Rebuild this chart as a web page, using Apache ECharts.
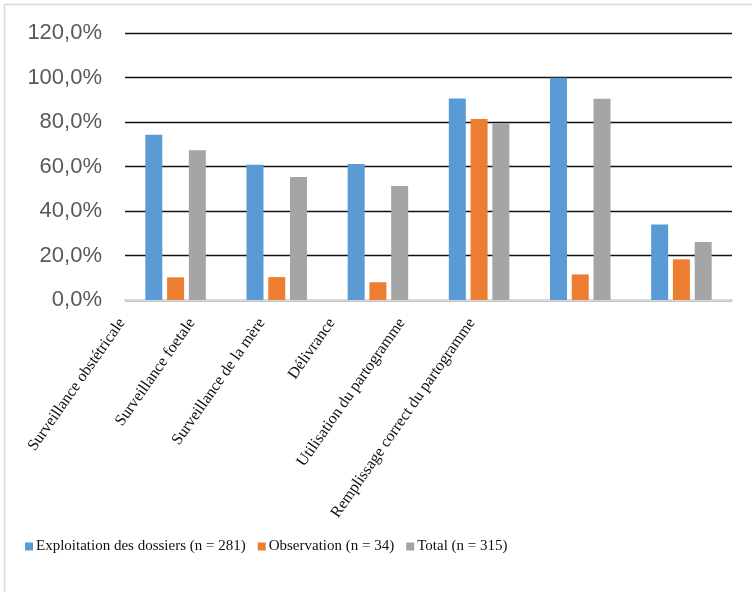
<!DOCTYPE html>
<html>
<head>
<meta charset="utf-8">
<script src="https://cdn.jsdelivr.net/npm/echarts@6/dist/echarts.min.js"></script>
<style>html,body{margin:0;padding:0;background:#fff;}#chart{width:752px;height:592px;}</style>
</head>
<body>
<div id="chart"></div>
<script>
var categories = ["Surveillance obstétricale", "Surveillance foetale", "Surveillance de la mère", "Délivrance", "Utilisation du partogramme", "Remplissage correct du partogramme"];
var seriesNames = ["Exploitation des dossiers (n = 281)", "Observation (n = 34)", "Total (n = 315)"];
var exploitation = [0.744, 0.609, 0.612, 0.907, 1.000, 0.340];
var observation = [0.102, 0.103, 0.080, 0.814, 0.115, 0.183];
var total = [0.674, 0.553, 0.513, 0.795, 0.906, 0.261];
var yTicks = { min: 0, max: 1.2, interval: 0.2 };
var colors = ["#5B9BD5", "#ED7D31", "#A5A5A5"];

var chart = echarts.init(document.getElementById('chart'), null, { renderer: 'canvas' });
var serifFont = '"Liberation Serif", "Times New Roman", serif';
var sansFont = '"Liberation Sans", Arial, sans-serif';

function barSeries(name, data, color) {
  return {
    name: name, type: 'bar', data: data, xAxisIndex: 0, yAxisIndex: 0,
    barWidth: 17, barGap: '28%',
    itemStyle: { color: color }
  };
}

chart.setOption({
  animation: false,
  color: colors,
  graphic: [{
    type: 'rect', silent: true, z: -10,
    shape: { x: 4.5, y: 4.5, width: 800, height: 700 },
    style: { fill: 'none', stroke: '#d9d9d9', lineWidth: 1.5 }
  }],
  grid: [
    { left: 125, right: 20, top: 33.3, height: 266.7 },
    { left: 87, width: 420, top: 33.3, height: 266.7 }
  ],
  legend: {
    left: 25, top: 539, padding: 0,
    icon: 'rect', itemWidth: 8, itemHeight: 8, itemGap: 12,
    textStyle: { fontFamily: serifFont, fontSize: 15, color: '#111', padding: [0, 0, 0, -2] },
    data: seriesNames
  },
  xAxis: [
    {
      type: 'category', gridIndex: 0, data: categories, z: 1,
      axisLine: { show: true, lineStyle: { color: '#d9d9d9', width: 2 } },
      axisTick: { show: false },
      axisLabel: { show: false }
    },
    {
      type: 'category', gridIndex: 1, data: categories,
      axisLine: { show: false }, axisTick: { show: false }, splitLine: { show: false },
      axisLabel: {
        show: true, interval: 0, rotate: 55, margin: 20,
        fontFamily: serifFont, fontSize: 16, color: '#111'
      }
    }
  ],
  yAxis: [
    {
      type: 'value', gridIndex: 0, min: yTicks.min, max: yTicks.max, interval: yTicks.interval,
      axisLine: { show: false }, axisTick: { show: false },
      splitLine: { show: true, lineStyle: { color: '#111', width: 1.3 } },
      axisLabel: {
        margin: 23, fontFamily: sansFont, fontSize: 22, color: '#595959',
        formatter: function (v) { return (v * 100).toFixed(1).replace('.', ',') + '%'; }
      }
    },
    { type: 'value', gridIndex: 1, show: false, min: 0, max: 1, splitLine: { show: false } }
  ],
  series: [
    barSeries(seriesNames[0], exploitation, colors[0]),
    barSeries(seriesNames[1], observation, colors[1]),
    barSeries(seriesNames[2], total, colors[2])
  ]
});
</script>
</body>
</html>
